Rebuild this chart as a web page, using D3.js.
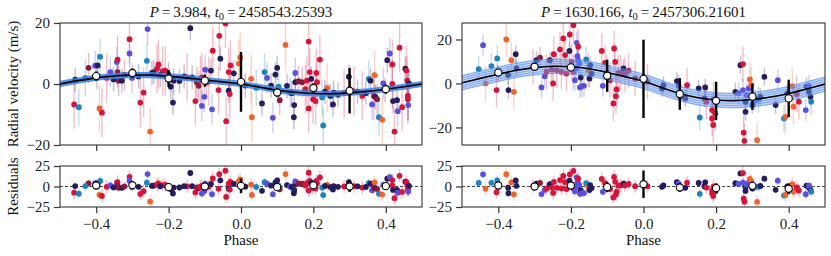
<!DOCTYPE html>
<html><head><meta charset="utf-8">
<script src="https://cdn.jsdelivr.net/npm/d3@7"></script>
<style>body{margin:0;background:#fff}svg{display:block}text{font-family:"Liberation Serif","Times New Roman",serif}</style>
</head><body><svg id="c" width="831" height="256"></svg>
<script>
// ---------- DATA ----------
const phaseTicks = [-0.4, -0.2, 0.0, 0.2, 0.4];
const leftYTicks = [-20, 0, 20];
const rightYTicks = [-20, 0, 20];
const resYTicks = [-25, 0, 25];
const titles = [["P", "3.984", "2458543.25393"], ["P", "1630.166", "2457306.21601"]];
const instColors = {N:"#241c5c", P:"#5b4fe0", T:"#1d83c0", O:"#f2622c", R:"#d7153b", D:"#8c1c3a"};
const instErr = {N:4, P:5, T:6, O:8, R:8, D:5};

// model curves sampled every 0.05 in phase, -0.5 .. 0.5
const modelPhase = [-0.5,-0.45,-0.4,-0.35,-0.3,-0.25,-0.2,-0.15,-0.1,-0.05,0,0.05,0.1,0.15,0.2,0.25,0.3,0.35,0.4,0.45,0.5];
const leftModel  = [0,1.1,2.0,2.6,2.9,2.9,2.5,2.0,1.3,0.7,0.0,-1.0,-2.0,-2.7,-3.1,-3.2,-2.9,-2.4,-1.7,-0.9,0];
const rightModel = [0.3,2.3,4.2,6.0,7.2,7.8,7.6,6.7,5.0,3.0,1.0,-1.9,-4.6,-6.5,-7.5,-7.8,-7.3,-6.2,-4.6,-2.5,-0.3];
const leftBandHalf = 1.0;
const rightBandHalf = 3.6;
const rightSampleOffsets = [-3.2,-2.2,-1.2,0.0,1.2,2.2,3.2];

// binned points
const binPhase = [-0.4,-0.3,-0.2,-0.1,0.0,0.1,0.2,0.3,0.4];
const leftBinV   = [2.6,3.6,1.8,1.1,0.7,-2.8,-1.3,-2.2,-1.7];
const leftBinErr = [1.5,1.5,2.8,2.0,9.8,1.5,1.5,7.4,1.5];
const leftResBin = [1.2,1.6,-0.8,0.0,0.8,-0.8,1.6,0.0,0.4];
const leftResErr = [1.5,1.5,2.5,2.0,9.0,1.5,1.5,6.6,1.5];
const rightBinV   = [5.0,7.6,7.3,3.5,2.1,-4.8,-7.9,-6.0,-6.8];
const rightBinErr = [1.5,1.5,1.5,7.3,17.8,7.2,8.7,6.0,8.5];
const rightResBin = [1.2,0.0,1.2,-0.8,2.8,-1.2,-2.0,0.8,-2.8];
const rightResErr = [1.5,1.5,1.5,6.0,16.7,5.0,6.0,5.0,6.6];

// observations: [phase, rv, instrument]
const leftObs = [
[-0.461,-6.7,"R"],[-0.458,1.4,"N"],[-0.448,-7.6,"T"],[-0.421,5.3,"D"],[-0.403,6.0,"P"],[-0.396,6.1,"N"],
[-0.389,8.9,"T"],[-0.391,-8.0,"O"],[-0.384,-9.4,"R"],[-0.398,2.4,"N"],[-0.371,2.0,"R"],[-0.361,3.9,"P"],
[-0.343,7.2,"P"],[-0.341,8.0,"R"],[-0.341,3.9,"D"],[-0.338,1.1,"D"],[-0.329,1.1,"N"],[-0.308,14.7,"R"],
[-0.308,10.0,"P"],[-0.301,2.0,"P"],[-0.278,-6.1,"R"],[-0.269,-2.8,"R"],[-0.260,7.6,"T"],[-0.258,18.0,"P"],
[-0.251,-15.6,"O"],[-0.246,3.6,"N"],[-0.241,3.9,"N"],[-0.232,5.0,"R"],[-0.228,6.4,"R"],[-0.216,4.2,"R"],
[-0.209,4.4,"R"],[-0.200,3.1,"N"],[-0.194,-0.9,"N"],[-0.188,-6.1,"N"],[-0.186,1.1,"N"],[-0.149,2.2,"R"],
[-0.140,18.3,"N"],[-0.135,2.2,"N"],[-0.126,-5.6,"R"],[-0.122,0.6,"D"],[-0.117,-0.6,"D"],[-0.112,1.3,"R"],
[-0.108,2.2,"R"],[-0.101,-4.2,"P"],[-0.108,-7.2,"P"],[-0.099,4.7,"P"],[-0.089,0.9,"R"],[-0.083,4.4,"N"],
[-0.080,-8.3,"P"],[-0.078,10.9,"R"],[-0.062,-2.0,"R"],[-0.060,15.8,"R"],[-0.057,8.3,"N"],[-0.043,19.8,"R"],
[-0.041,-12.2,"R"],[-0.034,-2.2,"N"],[-0.034,3.9,"R"],[-0.031,-3.3,"R"],[-0.029,6.1,"R"],[-0.006,6.7,"O"],
[-0.002,8.7,"O"],[0.000,0.6,"N"],[0.028,1.7,"O"],[0.030,-10.9,"O"],[0.042,-1.3,"T"],[0.058,-6.4,"N"],
[0.065,3.9,"T"],[0.072,2.0,"P"],[0.088,-11.1,"P"],[0.095,3.1,"N"],[0.100,5.3,"N"],[0.104,-0.9,"T"],
[0.107,-5.3,"D"],[0.123,12.8,"O"],[0.127,-0.6,"N"],[0.136,-2.8,"P"],[0.146,-10.9,"N"],[0.147,-6.9,"N"],
[0.150,0.6,"N"],[0.150,3.6,"P"],[0.159,0.9,"D"],[0.169,0.6,"D"],[0.178,-1.7,"R"],[0.182,1.1,"R"],
[0.187,13.9,"R"],[0.187,-8.0,"R"],[0.190,3.9,"R"],[0.194,1.7,"N"],[0.199,-5.0,"R"],[0.206,-5.6,"R"],
[0.208,3.6,"R"],[0.210,0.6,"R"],[0.218,8.0,"R"],[0.224,-4.4,"T"],[0.227,-13.6,"T"],[0.238,-1.3,"O"],
[0.247,-3.9,"N"],[0.254,-6.7,"N"],[0.256,-2.8,"N"],[0.298,2.4,"N"],[0.302,-2.2,"R"],[0.312,-2.4,"R"],
[0.335,-3.9,"R"],[0.353,1.7,"T"],[0.358,1.1,"N"],[0.362,-6.7,"P"],[0.367,-3.9,"R"],[0.369,2.9,"O"],
[0.371,-4.2,"N"],[0.376,-5.0,"D"],[0.381,-10.9,"T"],[0.390,-11.7,"O"],[0.393,0.2,"P"],[0.404,7.8,"N"],
[0.411,10.0,"P"],[0.418,0.0,"R"],[0.418,6.4,"R"],[0.420,-5.6,"N"],[0.424,-15.6,"R"],[0.431,-5.3,"N"],
[0.433,-8.9,"P"],[0.438,11.9,"R"],[0.445,-7.6,"R"],[0.454,5.0,"N"],[0.457,4.4,"R"],[0.459,1.1,"R"],
[0.461,-3.9,"R"],[0.461,-5.0,"R"],[0.462,-6.9,"P"],[0.464,0.2,"N"],
[-0.430,2.0,"T"],[-0.352,1.5,"N"],[-0.322,3.0,"D"],[-0.283,2.5,"N"],[-0.223,3.0,"N"],[-0.170,1.0,"N"],
[-0.157,2.5,"N"],[-0.095,0.5,"D"],[-0.020,3.5,"N"],[0.012,-0.5,"N"],[0.083,-0.5,"N"],[0.140,-3.0,"N"],
[0.232,-2.5,"N"],[0.268,-3.5,"N"],[0.285,-3.0,"R"],[0.322,-2.5,"N"],[0.345,-3.0,"N"],[0.398,-2.0,"N"]
];
const rightObs = [
[-0.454,6.5,"T"],[-0.442,17.4,"P"],[-0.435,0.0,"O"],[-0.419,7.9,"T"],[-0.403,11.4,"T"],[-0.405,-3.0,"R"],
[-0.401,4.5,"N"],[-0.378,20.0,"O"],[-0.373,3.8,"N"],[-0.372,-3.0,"N"],[-0.364,10.6,"O"],[-0.357,-3.8,"O"],
[-0.352,13.3,"N"],[-0.350,6.8,"N"],[-0.304,7.6,"R"],[-0.295,10.6,"N"],[-0.285,11.7,"D"],[-0.281,-1.8,"P"],
[-0.272,3.3,"P"],[-0.267,5.3,"R"],[-0.258,10.6,"N"],[-0.253,6.4,"R"],[-0.249,0.0,"R"],[-0.247,13.3,"R"],
[-0.239,6.1,"R"],[-0.230,15.5,"R"],[-0.226,5.3,"R"],[-0.221,20.5,"R"],[-0.216,12.9,"R"],[-0.212,4.5,"R"],
[-0.204,14.8,"N"],[-0.203,22.3,"R"],[-0.198,9.8,"R"],[-0.193,26.5,"R"],[-0.193,5.3,"R"],[-0.189,1.5,"P"],
[-0.186,6.8,"P"],[-0.184,18.5,"P"],[-0.182,12.4,"P"],[-0.180,10.6,"P"],[-0.180,16.7,"R"],[-0.177,9.1,"P"],
[-0.175,-1.8,"P"],[-0.173,2.7,"N"],[-0.170,-1.2,"P"],[-0.164,-1.1,"P"],[-0.158,10.9,"T"],[-0.152,6.1,"O"],
[-0.149,2.3,"N"],[-0.147,8.3,"N"],[-0.143,4.5,"N"],[-0.115,14.8,"R"],[-0.112,-1.1,"P"],[-0.106,9.4,"R"],
[-0.101,4.8,"R"],[-0.099,3.0,"N"],[-0.092,1.5,"R"],[-0.083,-9.1,"R"],[-0.081,15.9,"R"],[-0.078,9.8,"R"],
[-0.076,-5.8,"R"],[-0.074,-2.7,"R"],[-0.069,4.8,"R"],[-0.063,4.8,"R"],[-0.055,6.8,"N"],[-0.051,4.2,"R"],
[-0.041,5.8,"R"],[-0.023,2.3,"R"],[0.011,0.8,"R"],[0.051,-2.3,"N"],[0.055,-0.8,"N"],[0.092,1.1,"N"],
[0.097,-1.1,"P"],[0.101,-6.1,"N"],[0.115,-6.8,"N"],[0.120,-0.8,"R"],[0.152,-2.3,"N"],[0.155,-15.5,"T"],
[0.168,-6.8,"N"],[0.170,-1.8,"N"],[0.173,-8.3,"R"],[0.189,-12.1,"R"],[0.189,-15.9,"R"],[0.192,-18.9,"R"],
[0.193,-7.3,"R"],[0.198,-13.6,"R"],[0.253,-3.8,"N"],[0.262,-4.5,"P"],[0.267,8.3,"N"],[0.274,8.8,"R"],
[0.274,-3.0,"P"],[0.276,-22.4,"R"],[0.278,-26.1,"R"],[0.281,-8.3,"N"],[0.281,-12.9,"N"],[0.284,-5.3,"P"],
[0.290,-2.3,"P"],[0.293,1.8,"O"],[0.297,-0.8,"O"],[0.300,-9.8,"N"],[0.308,-7.6,"P"],[0.313,-25.8,"O"],
[0.317,-7.3,"T"],[0.322,-6.1,"N"],[0.333,3.0,"N"],[0.364,-9.8,"N"],[0.370,1.5,"P"],[0.387,-15.9,"T"],
[0.391,-15.2,"O"],[0.396,-4.5,"N"],[0.410,-1.2,"O"],[0.413,-10.6,"O"],[0.422,-4.8,"R"],[0.428,-8.3,"R"],
[0.447,-12.1,"P"],[0.449,-1.5,"N"],[0.456,-3.8,"N"],[0.460,-6.1,"N"],[0.462,-8.3,"T"],[0.456,-1.2,"P"]
];

// ---------- DRAW ----------
const svg = d3.select("#c");
const font = "Liberation Serif";
const FS = 15;
const topY = [23, 145], botY = [166, 207];
const panels = [
  {x:[60,422], yDom:[-20,20], yTicks:leftYTicks, model:leftModel, band:leftBandHalf, samples:null,
   obs:leftObs, binV:leftBinV, binE:leftBinErr, resB:leftResBin, resE:leftResErr, title:titles[0]},
  {x:[462,825], yDom:[-28,27.5], yTicks:rightYTicks, model:rightModel, band:rightBandHalf, samples:rightSampleOffsets,
   obs:rightObs, binV:rightBinV, binE:rightBinErr, resB:rightResBin, resE:rightResErr, title:titles[1]}
];
const interp = (arr) => d3.scaleLinear().domain(modelPhase).range(arr);

panels.forEach((p, i) => {
  const x = d3.scaleLinear().domain([-0.5, 0.5]).range(p.x);
  const y = d3.scaleLinear().domain(p.yDom).range([topY[1], topY[0]]);
  const yr = d3.scaleLinear().domain([-25, 25]).range([botY[1], botY[0]]);
  const mf = interp(p.model);

  const defs = svg.append("defs");
  defs.append("clipPath").attr("id","ct"+i).append("rect")
    .attr("x",p.x[0]).attr("y",topY[0]).attr("width",p.x[1]-p.x[0]).attr("height",topY[1]-topY[0]);
  defs.append("clipPath").attr("id","cb"+i).append("rect")
    .attr("x",p.x[0]).attr("y",botY[0]).attr("width",p.x[1]-p.x[0]).attr("height",botY[1]-botY[0]);

  // ---- top panel ----
  const gt = svg.append("g").attr("clip-path","url(#ct"+i+")");
  gt.selectAll("line.e").data(p.obs).join("line")
    .attr("x1",d=>x(d[0])).attr("x2",d=>x(d[0]))
    .attr("y1",d=>y(d[1]-instErr[d[2]])).attr("y2",d=>y(d[1]+instErr[d[2]]))
    .attr("stroke",d=>instColors[d[2]]).attr("stroke-opacity",0.28).attr("stroke-width",1.4);
  gt.selectAll("circle.o").data(p.obs).join("circle")
    .attr("cx",d=>x(d[0])).attr("cy",d=>y(d[1])).attr("r",2.9)
    .attr("fill",d=>instColors[d[2]]);

  const md = modelPhase.map((ph,k)=>[ph,p.model[k]]);
  const area = d3.area().x(d=>x(d[0])).y0(d=>y(d[1]-p.band)).y1(d=>y(d[1]+p.band)).curve(d3.curveCatmullRom);
  gt.append("path").datum(md).attr("d",area)
    .attr("fill", i===0 ? "#3a7fe3" : "#6f9ff0").attr("fill-opacity", i===0 ? 0.85 : 0.45);
  if (p.samples) {
    p.samples.forEach(off => {
      gt.append("path").datum(md)
        .attr("d", d3.line().x(d=>x(d[0])).y(d=>y(d[1]+off)).curve(d3.curveCatmullRom))
        .attr("fill","none").attr("stroke","#3f7ae6").attr("stroke-opacity",0.55).attr("stroke-width",0.9);
    });
  }
  gt.append("path").datum(md)
    .attr("d", d3.line().x(d=>x(d[0])).y(d=>y(d[1])).curve(d3.curveCatmullRom))
    .attr("fill","none").attr("stroke","#000").attr("stroke-width",1.6);

  const bins = binPhase.map((ph,k)=>({ph, v:p.binV[k], e:p.binE[k], r:p.resB[k], re:p.resE[k]}));
  gt.selectAll("line.b").data(bins).join("line")
    .attr("x1",d=>x(d.ph)).attr("x2",d=>x(d.ph))
    .attr("y1",d=>y(d.v-d.e)).attr("y2",d=>y(d.v+d.e))
    .attr("stroke","#000").attr("stroke-width",2.4);
  gt.selectAll("circle.b").data(bins).join("circle")
    .attr("cx",d=>x(d.ph)).attr("cy",d=>y(d.v)).attr("r",3.6)
    .attr("fill","#fff").attr("stroke","#000").attr("stroke-width",1.1);

  // ---- residual panel ----
  const gb = svg.append("g").attr("clip-path","url(#cb"+i+")");
  gb.append("line").attr("x1",p.x[0]).attr("x2",p.x[1]).attr("y1",yr(0)).attr("y2",yr(0))
    .attr("stroke","#444").attr("stroke-width",1).attr("stroke-dasharray","3,2");
  gb.selectAll("line.e").data(p.obs).join("line")
    .attr("x1",d=>x(d[0])).attr("x2",d=>x(d[0]))
    .attr("y1",d=>yr(d[1]-mf(d[0])-instErr[d[2]])).attr("y2",d=>yr(d[1]-mf(d[0])+instErr[d[2]]))
    .attr("stroke",d=>instColors[d[2]]).attr("stroke-opacity",0.28).attr("stroke-width",1.4);
  gb.selectAll("circle.o").data(p.obs).join("circle")
    .attr("cx",d=>x(d[0])).attr("cy",d=>yr(d[1]-mf(d[0]))).attr("r",2.9)
    .attr("fill",d=>instColors[d[2]]);
  gb.selectAll("line.b").data(bins).join("line")
    .attr("x1",d=>x(d.ph)).attr("x2",d=>x(d.ph))
    .attr("y1",d=>yr(d.r-d.re)).attr("y2",d=>yr(d.r+d.re))
    .attr("stroke","#000").attr("stroke-width",2.4);
  gb.selectAll("circle.b").data(bins).join("circle")
    .attr("cx",d=>x(d.ph)).attr("cy",d=>yr(d.r)).attr("r",3.6)
    .attr("fill","#fff").attr("stroke","#000").attr("stroke-width",1.1);

  // ---- axes ----
  const styleAxis = g => {
    g.selectAll(".domain").remove();
    g.selectAll(".tick line").attr("stroke","#333").attr("stroke-width",1.2);
    g.selectAll(".tick text").attr("font-family",font).attr("font-size",FS).attr("fill","#222");
  };
  svg.append("g").attr("transform",`translate(0,${topY[1]})`)
    .call(d3.axisBottom(x).tickValues(phaseTicks).tickSize(6).tickFormat(""))
    .call(styleAxis);
  svg.append("g").attr("transform",`translate(${p.x[0]},0)`)
    .call(d3.axisLeft(y).tickValues(p.yTicks).tickSize(6).tickPadding(4).tickFormat(d3.format("d")))
    .call(styleAxis);
  svg.append("g").attr("transform",`translate(0,${botY[1]})`)
    .call(d3.axisBottom(x).tickValues(phaseTicks).tickSize(6).tickPadding(5).tickFormat(d3.format(".1f")))
    .call(styleAxis);
  svg.append("g").attr("transform",`translate(${p.x[0]},0)`)
    .call(d3.axisLeft(yr).tickValues(resYTicks).tickSize(6).tickPadding(4).tickFormat(d3.format("d")))
    .call(styleAxis);

  // frames
  [topY, botY].forEach(yy => {
    svg.append("rect").attr("x",p.x[0]).attr("y",yy[0]).attr("width",p.x[1]-p.x[0]).attr("height",yy[1]-yy[0])
      .attr("fill","none").attr("stroke","#333").attr("stroke-width",1.1);
  });

  // title
  const cx = (p.x[0]+p.x[1])/2;
  const t = svg.append("text").attr("x",cx).attr("y",17).attr("text-anchor","middle")
    .attr("font-family",font).attr("font-size",FS).attr("fill","#111");
  t.append("tspan").attr("font-style","italic").text(p.title[0]);
  t.append("tspan").text("\u2009=\u2009" + p.title[1] + ", ");
  t.append("tspan").attr("font-style","italic").text("t");
  t.append("tspan").attr("font-size",10.5).attr("dy",3).text("0");
  t.append("tspan").attr("dy",-3).text("\u2009=\u2009" + p.title[2]);

  // x label
  svg.append("text").attr("x",cx).attr("y",245).attr("text-anchor","middle")
    .attr("font-family",font).attr("font-size",FS).attr("fill","#111").text("Phase");
});

// y labels
svg.append("text").attr("transform",`translate(18,${(topY[0]+topY[1])/2}) rotate(-90)`)
  .attr("text-anchor","middle").attr("font-family",font).attr("font-size",FS).attr("fill","#111")
  .text("Radial velocity (m/s)");
svg.append("text").attr("transform",`translate(18,${(botY[0]+botY[1])/2}) rotate(-90)`)
  .attr("text-anchor","middle").attr("font-family",font).attr("font-size",FS).attr("fill","#111")
  .text("Residuals");
</script></body></html>
